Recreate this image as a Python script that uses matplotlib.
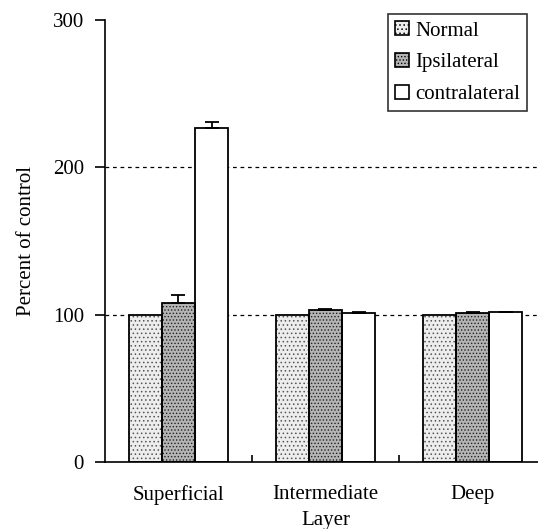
import numpy as np
import matplotlib.pyplot as plt

plt.rcParams['font.family'] = ['Liberation Serif', 'DejaVu Serif']
plt.rcParams['hatch.linewidth'] = 0.6

layers = ['Superficial', 'Intermediate', 'Deep']
normal = [100, 100, 100]
ipsi = [108, 103, 101]
ipsi_err = [5, 1, 0.6]
contra = [226.5, 101, 102]
contra_err = [4, 0.6, 0]

fig = plt.figure(figsize=(5.38, 5.29), dpi=100)
# axes runs slightly past the right edge, as in the original
ax = fig.add_axes([0.195, 0.127, 0.82, 0.835])

x = np.arange(len(layers))
w = 0.225

ax.axhline(100, color='black', ls=(0, (3, 3)), lw=0.9, zorder=0)
ax.axhline(200, color='black', ls=(0, (3, 3)), lw=0.9, zorder=0)

ax.bar(x - w, normal, w, color='#ededed', edgecolor='#555555', hatch='....',
       lw=0, label='Normal', zorder=2)
ax.bar(x, ipsi, w, color='#b4b4b4', edgecolor='#222222', hatch='.....',
       lw=0, label='Ipsilateral', zorder=2)
ax.bar(x + w, contra, w, color='white', edgecolor='black',
       lw=1.3, label='contralateral', zorder=2)
# outlines in black over the hatched bars
for xs, vals in [(x - w, normal), (x, ipsi)]:
    ax.bar(xs, vals, w, fill=False, edgecolor='black', lw=1.3, zorder=3)

ax.errorbar(x, ipsi, yerr=[np.zeros(3), ipsi_err], fmt='none', ecolor='black',
            elinewidth=1.3, capsize=5, capthick=1.3, zorder=4)
ax.errorbar(x + w, contra, yerr=[np.zeros(3), contra_err], fmt='none', ecolor='black',
            elinewidth=1.3, capsize=5, capthick=1.3, zorder=4)

ax.set_xlim(-0.5, 2.5)
ax.set_ylim(0, 300)
ax.set_yticks([0, 100, 200, 300])
ax.tick_params(axis='y', direction='out', length=7, width=1.2, labelsize=15, pad=8)
ax.set_xticks([0.5, 1.5])
ax.set_xticks(x, minor=True)
ax.set_xticklabels(['', ''])
ax.set_xticklabels(layers, minor=True)
ax.tick_params(axis='x', which='major', direction='in', length=5, width=1.2)
ax.tick_params(axis='x', which='minor', length=0, labelsize=15, pad=17)
ax.spines['top'].set_visible(False)
ax.spines['right'].set_visible(False)
ax.spines['left'].set_linewidth(1.2)
ax.spines['bottom'].set_linewidth(1.2)
ax.set_ylabel('Percent of control', fontsize=15, labelpad=12)
ax.set_xlabel('Layer', fontsize=15, labelpad=4)

leg = ax.legend(loc='upper right', bbox_to_anchor=(0.957, 1.0136), fontsize=15,
                frameon=True, fancybox=False, edgecolor='black',
                handlelength=0.65, handleheight=0.65, handletextpad=0.3,
                labelspacing=0.6, borderpad=0.35, borderaxespad=0)
leg.get_frame().set_linewidth(1.2)
for h in leg.legend_handles:
    h.set_edgecolor('black')
    h.set_linewidth(1.2)

fig.savefig('out.png', dpi=100)
